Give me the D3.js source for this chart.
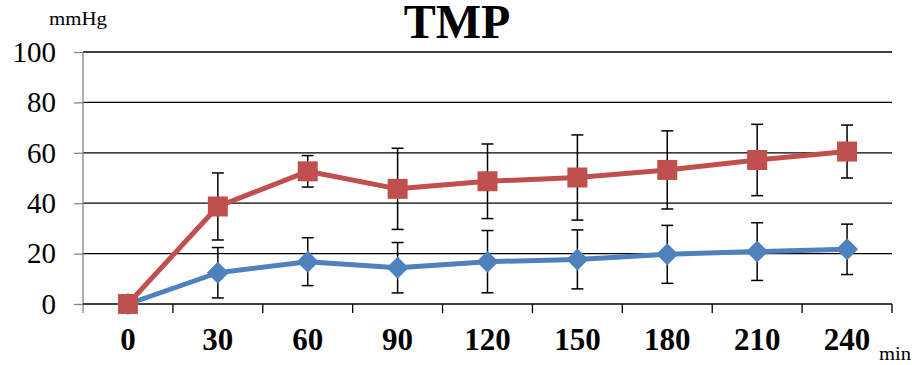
<!DOCTYPE html>
<html>
<head>
<meta charset="utf-8">
<script src="https://cdn.jsdelivr.net/npm/d3@7"></script>
<style>
  body { margin: 0; background: #fff; }
  svg text { font-family: "Liberation Serif", "Times New Roman", serif; }
</style>
</head>
<body>
<div id="theGraph"></div>
<script>
// values (mmHg, mean +/- SD)
var times = ["0", "30", "60", "90", "120", "150", "180", "210", "240"];
var blueMean = [0, 12.4, 16.8, 14.4, 16.8, 17.7, 19.7, 20.8, 21.7];
var blueSD = [0, 10, 9.5, 10, 12.35, 11.7, 11.5, 11.45, 10];
var redMean = [0, 38.7, 52.65, 45.7, 48.7, 50.2, 53.2, 57.15, 60.5];
var redSD = [0, 13.3, 6.25, 16.1, 14.8, 16.9, 15.5, 14.15, 10.5];
var yTicks = [0, 20, 40, 60, 80, 100];

const width = 912, height = 365,
    margin = {left: 83, top: 52, right: 20, bottom: 61},
    contentWidth = width - margin.left - margin.right,
    contentHeight = height - margin.top - margin.bottom;
const serif = "Liberation Serif, Times New Roman, serif";

const svg = d3.select("#theGraph")
            .append("svg")
                .attr("width", width)
                .attr("height", height);

const xScale = d3.scaleBand()
                    .domain(times)
                    .range([margin.left, margin.left + contentWidth])
                    .padding(0);
const yScale = d3.scaleLinear()
                    .domain([0, 100])
                    .range([margin.top + contentHeight, margin.top]);
const cx = d => xScale(d) + xScale.bandwidth() / 2;

// gridlines
svg.append("g").selectAll("line")
    .data(yTicks.slice(1))
    .enter().append("line")
        .attr("x1", margin.left).attr("x2", margin.left + contentWidth)
        .attr("y1", d => yScale(d)).attr("y2", d => yScale(d))
        .style("stroke", "#000").style("stroke-width", 1.3);

// y axis (gray)
const yAxis = svg.append("g")
    .attr("transform", `translate(${margin.left},0)`)
    .call(d3.axisLeft(yScale).tickValues(yTicks).tickSize(9).tickPadding(18));
yAxis.attr("font-family", serif);
yAxis.select(".domain").attr("d", `M0,${yScale(100)}V${yScale(0) + 9}`)
    .style("stroke", "#868686").style("stroke-width", 1.3);
yAxis.selectAll(".tick line").style("stroke", "#868686").style("stroke-width", 1.3);
yAxis.selectAll(".tick text")
    .attr("font-size", 29).attr("fill", "#000")
    .style("font-family", serif)
    .attr("dy", "0.32em").attr("x", -27);

// x axis line and tick marks at category boundaries
svg.append("line")
    .attr("x1", margin.left).attr("x2", margin.left + contentWidth)
    .attr("y1", yScale(0)).attr("y2", yScale(0))
    .style("stroke", "#000").style("stroke-width", 1.3);
svg.append("g").selectAll("line")
    .data(times.slice(1).concat(["end"]))
    .enter().append("line")
        .attr("x1", d => d === "end" ? margin.left + contentWidth : xScale(d))
        .attr("x2", d => d === "end" ? margin.left + contentWidth : xScale(d))
        .attr("y1", yScale(0)).attr("y2", yScale(0) + 9)
        .style("stroke", "#000").style("stroke-width", 1.3);

const xAxis = svg.append("g")
    .attr("transform", `translate(0,${yScale(0)})`)
    .call(d3.axisBottom(xScale).tickSize(0).tickPadding(24));
xAxis.attr("font-family", serif);
xAxis.select(".domain").remove();
xAxis.selectAll(".tick text")
    .attr("font-size", 31).attr("font-weight", "bold").attr("fill", "#000")
    .style("font-family", serif);

// titles
svg.append("text")
    .attr("x", 457).attr("y", 38)
    .attr("text-anchor", "middle")
    .attr("font-size", 48).attr("font-weight", "bold")
    .text("TMP");
svg.append("text")
    .attr("x", 49).attr("y", 25)
    .attr("font-size", 19).attr("textLength", 58).attr("lengthAdjust", "spacingAndGlyphs")
    .text("mmHg");
svg.append("text")
    .attr("x", 879).attr("y", 360)
    .attr("font-size", 19).attr("textLength", 32).attr("lengthAdjust", "spacingAndGlyphs")
    .text("min");

function drawSeries(means, sds, color, marker) {
    const g = svg.append("g");
    const pts = times.map((t, i) => ({t: t, m: means[i], sd: sds[i]}));

    // error bars
    const eb = g.selectAll(".err").data(pts.filter(d => d.sd > 0))
        .enter().append("g");
    eb.append("line")
        .attr("x1", d => cx(d.t)).attr("x2", d => cx(d.t))
        .attr("y1", d => yScale(d.m + d.sd)).attr("y2", d => yScale(d.m - d.sd));
    eb.append("line")
        .attr("x1", d => cx(d.t) - 6).attr("x2", d => cx(d.t) + 6)
        .attr("y1", d => yScale(d.m + d.sd)).attr("y2", d => yScale(d.m + d.sd));
    eb.append("line")
        .attr("x1", d => cx(d.t) - 6).attr("x2", d => cx(d.t) + 6)
        .attr("y1", d => yScale(d.m - d.sd)).attr("y2", d => yScale(d.m - d.sd));
    eb.selectAll("line").style("stroke", "#000").style("stroke-width", 1.5);

    const line = d3.line().x(d => cx(d.t)).y(d => yScale(d.m));
    g.append("path")
        .datum(pts)
        .attr("d", line)
        .style("fill", "none").style("stroke", color)
        .style("stroke-width", 5).style("stroke-linejoin", "round");

    g.selectAll(".mk").data(pts)
        .enter().append("path")
            .attr("transform", d => `translate(${cx(d.t)},${yScale(d.m)})`)
            .attr("d", marker === "square" ? "M-10,-10H10V10H-10Z" : "M0,-11L11,0L0,11L-11,0Z")
            .style("fill", color);
}

drawSeries(blueMean, blueSD, "#4F81BD", "diamond");
drawSeries(redMean, redSD, "#C0504D", "square");
</script>
</body>
</html>
